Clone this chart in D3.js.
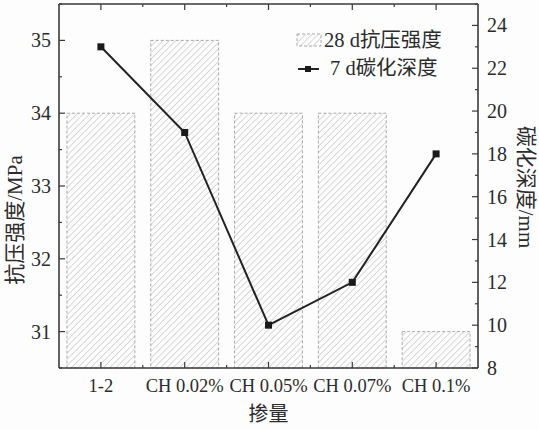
<!DOCTYPE html>
<meta charset="utf-8">
<head>
    <title>28 d strength and 7 d carbonation depth</title>
    <script src="https://d3js.org/d3.v7.min.js"></script>
</head>
<style>
    body {
        margin: 0;
        background-color: #fdfdfd;
    }
    text {
        font-family: "Liberation Serif", "Noto Sans CJK SC", serif;
        fill: #2b2b2b;
    }
    .frame line {
        stroke: #3a3a3a;
        stroke-width: 1.6px;
    }
    .tick-mark {
        stroke: #3a3a3a;
        stroke-width: 1.2px;
    }
    .bar {
        fill: url(#hatch);
        stroke: #aaa;
        stroke-width: 1px;
        stroke-dasharray: 3,2;
    }
    .depth-line {
        fill: none;
        stroke: #222;
        stroke-width: 2px;
    }
</style>
<body>
<svg width="539" height="430"></svg>
<script>
    // data
    var categories = ["1-2", "CH 0.02%", "CH 0.05%", "CH 0.07%", "CH 0.1%"];
    var strength = [34, 35, 34, 34, 31];          // 28 d compressive strength, MPa
    var depth = [23, 19, 10, 12, 18];             // 7 d carbonation depth, mm
    var leftTicks = [31, 32, 33, 34, 35];
    var rightTicks = [8, 10, 12, 14, 16, 18, 20, 22, 24];

    var svg = d3.select("svg"),
        margin = {top: 4, right: 61, bottom: 62, left: 59},
        width = +svg.attr("width") - margin.left - margin.right,
        height = +svg.attr("height") - margin.top - margin.bottom;

    var x = d3.scaleBand().domain(categories).range([0, width])
        .paddingInner(0.19).paddingOuter(0.095);
    var yL = d3.scaleLinear().domain([30.5, 35.5]).range([height, 0]);
    var yR = d3.scaleLinear().domain([8, 25]).range([height, 0]);

    var defs = svg.append("defs");
    var pat = defs.append("pattern")
        .attr("id", "hatch")
        .attr("patternUnits", "userSpaceOnUse")
        .attr("width", 4.5).attr("height", 4.5)
        .attr("patternTransform", "rotate(45)");
    pat.append("rect").attr("width", 4.5).attr("height", 4.5).attr("fill", "#fdfdfd");
    pat.append("line")
        .attr("x1", 0).attr("y1", 0).attr("x2", 0).attr("y2", 4.5)
        .attr("stroke", "#b4b4b4").attr("stroke-width", 1);

    var g = svg.append("g")
        .attr("transform", "translate(" + margin.left + "," + margin.top + ")");

    // bars
    g.selectAll(".bar")
        .data(categories)
        .enter().append("rect")
        .attr("class", "bar")
        .attr("x", function(d) { return x(d); })
        .attr("width", x.bandwidth())
        .attr("y", function(d, i) { return yL(strength[i]); })
        .attr("height", function(d, i) { return height - yL(strength[i]); });

    // carbonation depth line
    var line = d3.line()
        .x(function(d, i) { return x(categories[i]) + x.bandwidth() / 2; })
        .y(function(d) { return yR(d); });

    g.append("path")
        .datum(depth)
        .attr("class", "depth-line")
        .attr("d", line);

    g.selectAll(".pt")
        .data(depth)
        .enter().append("rect")
        .attr("class", "pt")
        .attr("x", function(d, i) { return x(categories[i]) + x.bandwidth() / 2 - 3.5; })
        .attr("y", function(d) { return yR(d) - 3.5; })
        .attr("width", 7).attr("height", 7)
        .attr("fill", "#1a1a1a");

    // frame
    var frame = g.append("g").attr("class", "frame");
    frame.append("line").attr("x1", 0).attr("x2", width).attr("y1", 0).attr("y2", 0);
    frame.append("line").attr("x1", 0).attr("x2", width).attr("y1", height).attr("y2", height);
    frame.append("line").attr("x1", 0).attr("x2", 0).attr("y1", 0).attr("y2", height);
    frame.append("line").attr("x1", width).attr("x2", width).attr("y1", 0).attr("y2", height);

    // x ticks: at category centres (major) and boundaries (minor), top and bottom, inward
    var xMajor = categories.map(function(c) { return x(c) + x.bandwidth() / 2; });
    var xMinor = d3.range(1, categories.length).map(function(i) { return x(categories[i]) - x.step() * x.paddingInner() / 2; });
    xMajor.forEach(function(px) {
        g.append("line").attr("class", "tick-mark").attr("x1", px).attr("x2", px).attr("y1", height).attr("y2", height - 6);
        g.append("line").attr("class", "tick-mark").attr("x1", px).attr("x2", px).attr("y1", 0).attr("y2", 6);
    });
    xMinor.forEach(function(px) {
        g.append("line").attr("class", "tick-mark").attr("x1", px).attr("x2", px).attr("y1", height).attr("y2", height - 3);
        g.append("line").attr("class", "tick-mark").attr("x1", px).attr("x2", px).attr("y1", 0).attr("y2", 3);
    });

    g.selectAll(".xlab")
        .data(categories)
        .enter().append("text")
        .attr("class", "xlab")
        .attr("x", function(d) { return x(d) + x.bandwidth() / 2; })
        .attr("y", height + 24)
        .attr("text-anchor", "middle")
        .style("font-size", "18.5px")
        .text(function(d) { return d; });

    // left axis
    leftTicks.forEach(function(v) {
        g.append("line").attr("class", "tick-mark").attr("x1", 0).attr("x2", 6).attr("y1", yL(v)).attr("y2", yL(v));
        g.append("line").attr("class", "tick-mark").attr("x1", 0).attr("x2", 3).attr("y1", yL(v - 0.5)).attr("y2", yL(v - 0.5));
        g.append("text").attr("x", -8).attr("y", yL(v) + 7)
            .attr("text-anchor", "end").style("font-size", "20px").text(v);
    });
    g.append("line").attr("class", "tick-mark").attr("x1", 0).attr("x2", 3).attr("y1", yL(35.5)).attr("y2", yL(35.5));

    // right axis
    rightTicks.forEach(function(v) {
        g.append("line").attr("class", "tick-mark").attr("x1", width).attr("x2", width - 6).attr("y1", yR(v)).attr("y2", yR(v));
        g.append("line").attr("class", "tick-mark").attr("x1", width).attr("x2", width - 3).attr("y1", yR(v + 1)).attr("y2", yR(v + 1));
        g.append("text").attr("x", width + 9).attr("y", yR(v) + 7)
            .attr("text-anchor", "start").style("font-size", "20px").text(v);
    });

    // axis titles
    svg.append("text")
        .attr("transform", "translate(22," + 220 + ") rotate(-90)")
        .attr("text-anchor", "middle")
        .style("font-size", "21px")
        .text("抗压强度/MPa");

    svg.append("text")
        .attr("transform", "translate(519," + 187 + ") rotate(90)")
        .attr("text-anchor", "middle")
        .style("font-size", "21px")
        .text("碳化深度/mm");

    svg.append("text")
        .attr("x", margin.left + width / 2)
        .attr("y", 421)
        .attr("text-anchor", "middle")
        .style("font-size", "20px")
        .text("掺量");

    // legend
    var legend = g.append("g").attr("transform", "translate(238,0)");
    legend.append("rect")
        .attr("x", 0).attr("y", 30).attr("width", 24).attr("height", 12)
        .attr("class", "bar");
    legend.append("text").attr("x", 27).attr("y", 43).style("font-size", "20.5px").text("28 d抗压强度");
    legend.append("line")
        .attr("x1", 1).attr("x2", 22).attr("y1", 65).attr("y2", 65)
        .attr("stroke", "#222").attr("stroke-width", 2);
    legend.append("rect").attr("x", 8).attr("y", 62).attr("width", 6).attr("height", 6).attr("fill", "#1a1a1a");
    legend.append("text").attr("x", 33).attr("y", 71).style("font-size", "20.5px").text("7 d碳化深度");
</script>
</body>
